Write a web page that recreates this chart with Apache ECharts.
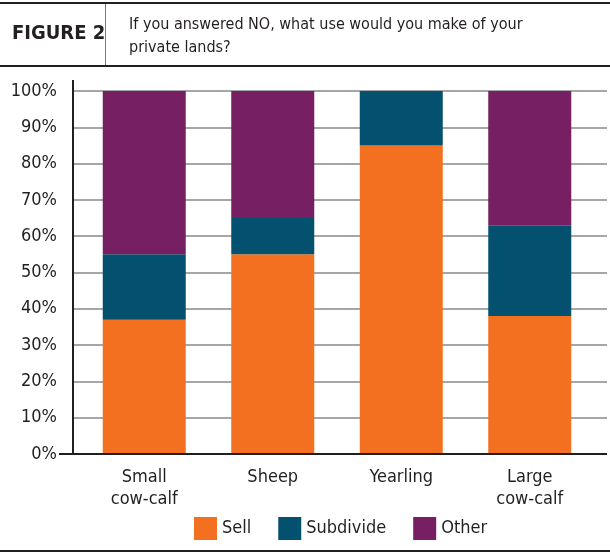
<!DOCTYPE html>
<html>
<head>
<meta charset="utf-8">
<script src="https://cdn.jsdelivr.net/npm/echarts@6/dist/echarts.min.js"></script>
<style>
  html, body { margin: 0; padding: 0; background: #fff; }
  #chart { width: 610px; height: 554px; }
</style>
</head>
<body>
<div id="chart"></div>
<script>
const categories = ['Small\ncow-calf', 'Sheep', 'Yearling', 'Large\ncow-calf']
const sell = [37, 55, 85, 38]
const subdivide = [18, 10, 15, 25]
const other = [45, 35, 0, 37]
const yTicks = [0, 10, 20, 30, 40, 50, 60, 70, 80, 90, 100]

const condensed = '"DejaVu Sans Condensed", sans-serif'
const dark = '#231f20'

// shared y-axis settings for both grids
const yBase = {
  type: 'value',
  min: yTicks[0],
  max: yTicks[yTicks.length - 1],
  interval: 10,
  axisLine: { show: false },
  axisTick: { show: false }
}

const chart = echarts.init(document.getElementById('chart'))
chart.setOption({
  animation: false,
  textStyle: { fontFamily: condensed },
  grid: [
    // full-width grid for the gridlines and tick labels
    { left: 73, right: 3, top: 91, bottom: 100 },
    // narrower grid for the bars
    { left: 80, right: 16, top: 91, bottom: 100 }
  ],
  legend: {
    top: 517,
    left: 194,
    padding: 0,
    icon: 'rect',
    itemWidth: 23,
    itemHeight: 23,
    itemGap: 27,
    textStyle: { fontSize: 18, color: dark, fontFamily: condensed },
    data: ['Sell', 'Subdivide', 'Other']
  },
  xAxis: [
    { type: 'category', gridIndex: 0, data: categories, show: false },
    {
      type: 'category',
      gridIndex: 1,
      data: categories,
      axisLine: { show: false },
      axisTick: { show: false },
      axisLabel: { fontSize: 18, color: dark, lineHeight: 22, margin: 12 }
    }
  ],
  yAxis: [
    Object.assign({}, yBase, {
      gridIndex: 0,
      axisLabel: { fontSize: 18, color: dark, margin: 16, formatter: '{value}%' },
      splitLine: { lineStyle: { color: '#a6a6aa', width: 2 } }
    }),
    Object.assign({}, yBase, {
      gridIndex: 1,
      axisLabel: { show: false },
      splitLine: { show: false }
    })
  ],
  series: [
    { name: 'Sell', type: 'bar', stack: 'a', xAxisIndex: 1, yAxisIndex: 1, barWidth: 83, data: sell, itemStyle: { color: '#f37021' } },
    { name: 'Subdivide', type: 'bar', stack: 'a', xAxisIndex: 1, yAxisIndex: 1, barWidth: 83, data: subdivide, itemStyle: { color: '#04516f' } },
    { name: 'Other', type: 'bar', stack: 'a', xAxisIndex: 1, yAxisIndex: 1, barWidth: 83, data: other, itemStyle: { color: '#761f62' } }
  ],
  graphic: [
    // header rules
    { type: 'rect', shape: { x: 0, y: 2, width: 610, height: 2 }, style: { fill: dark } },
    { type: 'rect', shape: { x: 0, y: 65, width: 610, height: 2 }, style: { fill: dark } },
    { type: 'rect', shape: { x: 105, y: 4, width: 1, height: 61 }, style: { fill: '#777' } },
    { type: 'rect', shape: { x: 0, y: 550, width: 610, height: 2 }, style: { fill: dark } },
    {
      type: 'text', left: 12, top: 24,
      style: { text: 'FIGURE 2', fontSize: 20, fontWeight: 'bold', fill: dark, fontFamily: condensed }
    },
    {
      type: 'text', left: 129, top: 13,
      style: {
        text: 'If you answered NO, what use would you make of your\nprivate lands?',
        fontSize: 16, lineHeight: 23, fill: dark, fontFamily: condensed
      }
    },
    // axis lines
    { type: 'rect', shape: { x: 72, y: 80, width: 2, height: 375 }, style: { fill: dark }, z: 10 },
    { type: 'rect', shape: { x: 59, y: 453, width: 548, height: 2 }, style: { fill: dark }, z: 10 }
  ]
})
</script>
</body>
</html>
